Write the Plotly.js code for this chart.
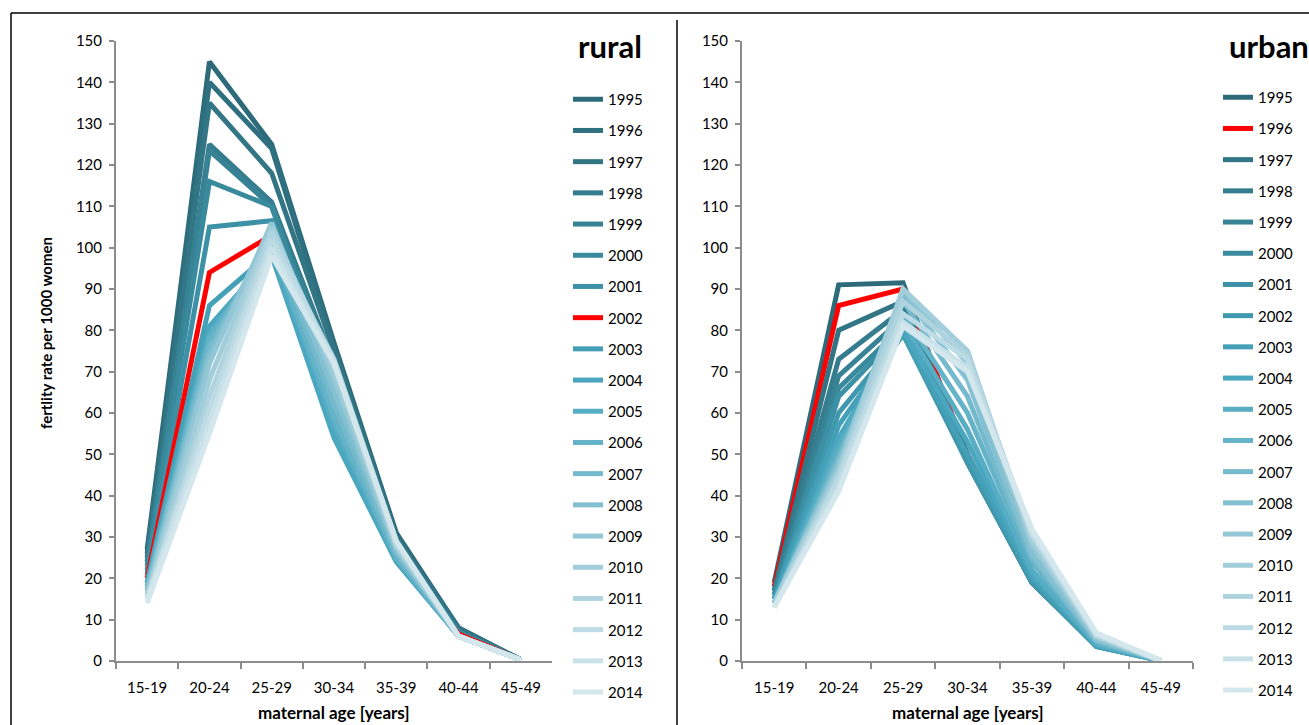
<!DOCTYPE html>
<html>
<head>
<meta charset="utf-8">
<script src="https://cdn.plot.ly/plotly-3.0.1.min.js"></script>
<style>html,body{margin:0;padding:0;background:#fff;}#chart{width:1309px;height:725px;}</style>
</head>
<body>
<div id="chart"></div>
<script>
// ---- data ----
const ageGroups = ["15-19","20-24","25-29","30-34","35-39","40-44","45-49"];
const years = [1995,1996,1997,1998,1999,2000,2001,2002,2003,2004,2005,2006,2007,2008,2009,2010,2011,2012,2013,2014];

const rural1995 = [27,145,125,77,31,8,0.3];
const rural1996 = [26,140,124,76,30,8,0.3];
const rural1997 = [25,135,118,75,30,7.5,0.3];
const rural1998 = [24,125,111,72,29,7,0.3];
const rural1999 = [23,123.5,110,70,28,7,0.3];
const rural2000 = [22,116,110,66,27,7,0.3];
const rural2001 = [21,105,106.5,62,26,6.5,0.3];
const rural2002 = [20,94,103,60,25,6.5,0.3];
const rural2003 = [19,86,99,56,25,6,0.3];
const rural2004 = [19,81,98,54,24,6,0.3];
const rural2005 = [18,79,100,57,25,6,0.3];
const rural2006 = [18,78,101,59,25,6,0.3];
const rural2007 = [17,76,103,62,26,6,0.3];
const rural2008 = [17,74,105,65,27,6,0.3];
const rural2009 = [16,72,106,68,27,6,0.3];
const rural2010 = [16,68,105,70,28,6,0.3];
const rural2011 = [15,64,104,72,28,6,0.3];
const rural2012 = [15,61,102,73,29,6,0.3];
const rural2013 = [15,58,100,72,29,6,0.3];
const rural2014 = [14,55,98,72,29,6,0.3];

const urban1995 = [19,91,91.5,49,19,4,0.1];
const urban1996 = [18,86,90,50,19,4,0.1];
const urban1997 = [17,80,87,50,19,4,0.1];
const urban1998 = [17,73,85,49,19,4,0.1];
const urban1999 = [16,69,83,48,19,4,0.1];
const urban2000 = [16,66,81,48,19,4,0.1];
const urban2001 = [15,64,80,48,19,3.5,0.1];
const urban2002 = [15,60,79,48,19,3.5,0.1];
const urban2003 = [15,57,79,50,20,3.5,0.1];
const urban2004 = [14,54,80,53,21,4,0.1];
const urban2005 = [14,52,82,56,22,4,0.1];
const urban2006 = [14,50,84,60,24,4.5,0.1];
const urban2007 = [14,49,87,64,25,5,0.1];
const urban2008 = [14,48,89,68,26,5,0.1];
const urban2009 = [14,47,90,72,28,5.5,0.1];
const urban2010 = [14,46,90,75,29,6,0.1];
const urban2011 = [13,45,87,74,30,6,0.1];
const urban2012 = [13,44,84,73,31,6.5,0.1];
const urban2013 = [13,42,82,71,31,6.5,0.1];
const urban2014 = [13,41,81,70,32,6.8,0.1];

const ruralSeries = [rural1995,rural1996,rural1997,rural1998,rural1999,rural2000,rural2001,rural2002,rural2003,rural2004,rural2005,rural2006,rural2007,rural2008,rural2009,rural2010,rural2011,rural2012,rural2013,rural2014];
const urbanSeries = [urban1995,urban1996,urban1997,urban1998,urban1999,urban2000,urban2001,urban2002,urban2003,urban2004,urban2005,urban2006,urban2007,urban2008,urban2009,urban2010,urban2011,urban2012,urban2013,urban2014];

const ruralHighlight = 2002;
const urbanHighlight = 1996;

// ---- styles ----
const palette = ["#2D6B7A","#2F7080","#327686","#357C8E","#378395","#3A8A9D","#3D91A6","#4098AE","#44A0B7","#4AA7BF","#56ADC4","#64B3C8","#74B9CC","#83C0D1","#93C7D6","#A2CDDA","#B0D4DF","#BDDBE4","#C9E1E8","#D4E7ED"];
const FONT = "Lato, 'Open Sans', sans-serif";

const traces = [];
years.forEach((yr, i) => {
  traces.push({
    x: ageGroups, y: ruralSeries[i], type: "scatter", mode: "lines",
    name: String(yr), xaxis: "x", yaxis: "y", legend: "legend", legendgroup: "r" + yr,
    line: {color: yr === ruralHighlight ? "#FF0000" : palette[i], width: 5},
    hoverinfo: "skip"
  });
});
years.forEach((yr, i) => {
  traces.push({
    x: ageGroups, y: urbanSeries[i], type: "scatter", mode: "lines",
    name: String(yr), xaxis: "x2", yaxis: "y2", legend: "legend2", legendgroup: "u" + yr,
    line: {color: yr === urbanHighlight ? "#FF0000" : palette[i], width: 5},
    hoverinfo: "skip"
  });
});

const W = 1309, H = 725;
const px = v => v / W, py = v => (H - v) / H;

function xAxis(domain, anchor) {
  return {domain: domain, anchor: anchor, type: "category", range: [-0.5, 6.5],
    tickson: "boundaries", ticks: "outside", ticklen: 6, tickwidth: 2, tickcolor: "#8C8C8C",
    showline: true, linecolor: "#8C8C8C", linewidth: 2, showgrid: false, zeroline: false,
    tickfont: {family: FONT, size: 15, color: "#000"}, fixedrange: true, ticklabelstandoff: 12};
}
function yAxis(anchor) {
  return {domain: [py(661), py(41)], anchor: anchor, range: [0, 150], dtick: 10,
    ticks: "outside", ticklen: 5, tickwidth: 2, tickcolor: "#8C8C8C",
    showline: true, linecolor: "#8C8C8C", linewidth: 2, showgrid: false, zeroline: false,
    tickfont: {family: FONT, size: 15, color: "#000"}, fixedrange: true, ticklabelstandoff: 4};
}
function legendCfg(xl, ytop) {
  return {x: px(xl), y: py(ytop), xanchor: "left", yanchor: "top", traceorder: "grouped",
    tracegroupgap: 8.7, bgcolor: "rgba(0,0,0,0)", borderwidth: 0, itemwidth: 30,
    font: {family: FONT, size: 15, color: "#000"}};
}

const layout = {
  width: W, height: H, margin: {l: 0, r: 0, t: 0, b: 0},
  paper_bgcolor: "#fff", plot_bgcolor: "rgba(0,0,0,0)",
  showlegend: true,
  xaxis: xAxis([px(116), px(552)], "y"),
  yaxis: yAxis("x"),
  xaxis2: xAxis([px(742), px(1193)], "y2"),
  yaxis2: yAxis("x2"),
  legend: legendCfg(568, 83),
  legend2: legendCfg(1218, 81),
  shapes: [
    {type: "line", xref: "paper", yref: "paper", x0: px(11), x1: 1, y0: py(13), y1: py(13), line: {color: "#000", width: 1.5}},
    {type: "line", xref: "paper", yref: "paper", x0: px(11), x1: px(11), y0: py(13), y1: 0, line: {color: "#000", width: 1.5}},
    {type: "line", xref: "paper", yref: "paper", x0: px(677), x1: px(677), y0: py(20), y1: 0, line: {color: "#000", width: 1.5}}
  ],
  annotations: [
    {text: "<b>rural</b>", xref: "paper", yref: "paper", x: px(610), y: py(46), xanchor: "center", yanchor: "middle", showarrow: false, font: {family: FONT, size: 31, color: "#000"}},
    {text: "<b>urban</b>", xref: "paper", yref: "paper", x: px(1227), y: py(46), xanchor: "left", yanchor: "middle", showarrow: false, font: {family: FONT, size: 31, color: "#000"}},
    {text: "<b>fertlity rate per 1000 women</b>", xref: "paper", yref: "paper", x: px(46), y: py(333), xanchor: "center", yanchor: "middle", textangle: -90, showarrow: false, font: {family: FONT, size: 15, color: "#000"}},
    {text: "<b>maternal age [years]</b>", xref: "paper", yref: "paper", x: px(334), y: py(712), xanchor: "center", yanchor: "middle", showarrow: false, font: {family: FONT, size: 17, color: "#000"}},
    {text: "<b>maternal age [years]</b>", xref: "paper", yref: "paper", x: px(968), y: py(712), xanchor: "center", yanchor: "middle", showarrow: false, font: {family: FONT, size: 17, color: "#000"}}
  ]
};

Plotly.newPlot("chart", traces, layout, {displayModeBar: false, staticPlot: true});
</script>
</body>
</html>
